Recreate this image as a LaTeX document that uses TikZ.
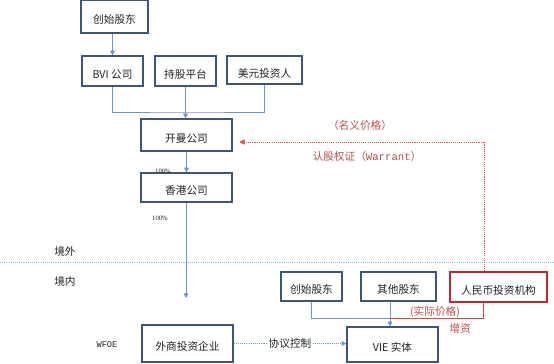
\documentclass[tikz,border=0pt]{standalone}
\usepackage{fontspec}
\newfontfamily\cjk{Noto Sans CJK SC}
\newfontfamily\monofont{Liberation Mono}
\newfontfamily\tinyserif{Liberation Serif}
\usetikzlibrary{arrows.meta}
\definecolor{boxline}{HTML}{3F5573}
\definecolor{linkblue}{HTML}{6E95C8}
\definecolor{sepblue}{HTML}{8FB0D8}
\definecolor{redbox}{HTML}{C0282D}
\definecolor{redtext}{HTML}{C0504D}
\definecolor{reddot}{HTML}{E05050}
\definecolor{textgray}{HTML}{222222}

\begin{document}
\begin{tikzpicture}[x=0.75pt,y=-0.75pt]
\tikzset{
  orgbox/.style={draw=boxline,line width=0.9pt,inner sep=1pt,text height=10.5pt,text depth=0pt,
    font=\cjk\fontsize{8}{9}\selectfont,text=textgray},
  rmbbox/.style={orgbox,draw=redbox},
  sidelabel/.style={anchor=west,inner sep=0pt,font=\cjk\fontsize{8}{9}\selectfont,text=textgray},
  redlabel/.style={inner sep=0pt,font=\cjk\fontsize{8}{9}\selectfont,text=redtext},
  pctlabel/.style={inner sep=0pt,font=\tinyserif\fontsize{5}{6}\selectfont,text=textgray},
  link/.style={draw=linkblue,line width=0.6pt},
  linkarrow/.style={link,-{Triangle[length=3.5pt,width=3.5pt]}},
  redlink/.style={draw=redtext,line width=0.6pt},
  reddotted/.style={draw=reddot,line width=0.6pt,dash pattern=on 0.8pt off 0.8pt,
    -{Triangle[length=4pt,width=4pt]}},
  bluedotted/.style={draw=linkblue,line width=0.6pt,dash pattern=on 0.8pt off 0.8pt,
    -{Triangle[length=3.5pt,width=3.5pt]}}
}
\useasboundingbox (0,0) rectangle (554,364);
\fill[white] (0,0) rectangle (554,364);
% offshore
\node[orgbox,minimum width=50.25pt,minimum height=24.75pt] (n_FT) at (114.5,16.5) {创始股东};
\node[orgbox,minimum width=45.75pt,minimum height=22.5pt] (n_BVI) at (112.5,71) {BVI 公司};
\node[orgbox,minimum width=45.75pt,minimum height=22.5pt] (n_ESOP) at (185.5,71) {持股平台};
\node[orgbox,minimum width=56.25pt,minimum height=21pt] (n_USD) at (264.5,70) {美元投资人};
\node[orgbox,minimum width=68.25pt,minimum height=24pt] (n_Cayman) at (186.5,135) {开曼公司};
\node[orgbox,minimum width=68.25pt,minimum height=21.75pt] (n_HK) at (186.5,187.5) {香港公司};
\node[pctlabel] (l_pct1) at (163,171) {100\%};
\node[pctlabel] (l_pct2) at (160,218) {100\%};
\node[redlabel] (l_nominal) at (360,125) {（名义价格）};
\node[redlabel] (l_warrant) at (367,156) {认股权证（{\monofont Warrant}）};
% border line
\node[sidelabel] (l_out) at (54,251) {境外};
\node[sidelabel] (l_in) at (54,281) {境内};
\draw[draw=sepblue,line width=0.6pt,dash pattern=on 0.8pt off 0.8pt] (0,262) -- (554,262);
% onshore
\node[orgbox,minimum width=45.75pt,minimum height=21.75pt] (n_FB) at (311.5,286.5) {创始股东};
\node[orgbox,minimum width=56.25pt,minimum height=21.75pt] (n_Other) at (398.5,286.5) {其他股东};
\node[rmbbox,minimum width=72.75pt,minimum height=22.5pt] (n_RMB) at (498.5,287) {人民币投资机构};
\node[orgbox,minimum width=68.25pt,minimum height=27.75pt] (n_WFOE) at (187.5,343.5) {外商投资企业};
\node[orgbox,minimum width=68.25pt,minimum height=26.25pt] (n_VIE) at (392.5,344.5) {VIE 实体};
\node[inner sep=0pt,font=\monofont\fontsize{6.5}{7}\selectfont,text=textgray] (l_wfoe) at (107,345) {WFOE};
\node[redlabel] (l_actual) at (435,312) {(实际价格)};
\node[redlabel] (l_capital) at (460,328) {增资};
\coordinate (c_join) at (186,112);
\coordinate (c_down) at (186,298);
\coordinate (c_merge) at (390,318);
\coordinate (c_redtop) at (484.5,142);
\coordinate (c_redbot) at (483,302);
% connectors
\draw[linkarrow] (n_FT.south -| n_BVI.north) -- (n_BVI.north);
\draw[link] (n_BVI.south) |- (c_join) -| (n_USD.south);
\draw[linkarrow] (n_ESOP.south) -- (n_ESOP.south |- n_Cayman.north);
\draw[linkarrow] (n_Cayman.south) -- (n_HK.north);
\draw[linkarrow] (n_HK.south -| c_down) -- (c_down);
\draw[link] (n_FB.south) |- (c_merge);
\draw[linkarrow] (n_Other.south -| c_merge) -- (n_VIE.north -| c_merge);
\draw[redlink] (c_redbot) |- (c_merge);
\draw[reddotted,shorten >=5pt] (n_RMB.north -| c_redtop) -- (c_redtop) -- (c_redtop -| n_Cayman.east);
\draw[bluedotted] (n_WFOE.east) -- node[fill=white,inner sep=1pt,font=\cjk\fontsize{8}{9}\selectfont,text=textgray] {协议控制} (n_WFOE.east -| n_VIE.west);
\end{tikzpicture}
\end{document}
